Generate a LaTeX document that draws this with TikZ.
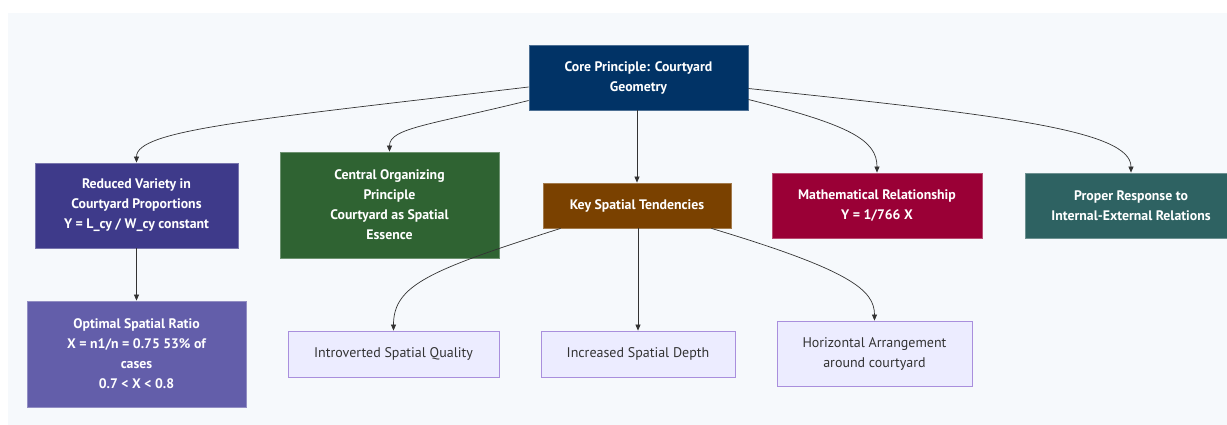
\documentclass[tikz,border=0pt]{standalone}
\usepackage{fontspec}
\setmainfont{PT Sans}
\usetikzlibrary{arrows.meta}
\definecolor{bgc}{HTML}{F6F9FC}
\definecolor{edgec}{HTML}{333333}
\definecolor{lightfill}{HTML}{ECECFF}
\definecolor{lightborder}{HTML}{A98FDD}
\definecolor{corec}{HTML}{013366}
\definecolor{redc}{HTML}{3E3A8A}
\definecolor{centc}{HTML}{2F6332}
\definecolor{keyc}{HTML}{7A4100}
\definecolor{mathc}{HTML}{9A0036}
\definecolor{propc}{HTML}{2E6262}
\definecolor{optc}{HTML}{635EAA}
\tikzset{
  box/.style={rectangle, draw=#1!70!white, line width=0.8pt, fill=#1, text=white,
    font=\fontsize{13.8}{20}\selectfont\bfseries, align=center, inner sep=0pt},
  lbox/.style={rectangle, draw=lightborder, line width=0.8pt, fill=lightfill, text=edgec,
    font=\fontsize{14}{20}\selectfont, align=center, inner sep=0pt},
  conn/.style={draw=edgec, line width=0.7pt, -{Triangle[length=6pt,width=5pt]}}
}
\begin{document}
\begin{tikzpicture}[x=1pt,y=-1pt]
\useasboundingbox (0,0) rectangle (1227,425);
\fill[bgc] (8,13) rectangle (1227,425);

\node[box=corec, minimum width=219pt, minimum height=65pt] (core) at (638.5,77.5) {Core Principle: Courtyard\\Geometry};
\node[box=redc, minimum width=203pt, minimum height=85pt] (red) at (136.5,205.5) {Reduced Variety in\\Courtyard Proportions\\Y = L\_cy / W\_cy constant};
\node[box=centc, minimum width=219pt, minimum height=106pt] (cent) at (389.5,205) {Central Organizing\\Principle\\Courtyard as Spatial\\Essence};
\node[box=keyc, minimum width=188pt, minimum height=45pt] (key) at (637,205.5) {Key Spatial Tendencies};
\node[box=mathc, minimum width=210pt, minimum height=65pt] (math) at (877,205.5) {Mathematical Relationship\\Y = 1/766 X};
\node[box=propc, minimum width=212pt, minimum height=65pt] (prop) at (1131,205.5) {Proper Response to\\Internal-External Relations};
\node[box=optc, minimum width=219pt, minimum height=106pt] (opt) at (136.5,354) {Optimal Spatial Ratio\\X = n1/n = 0.75 53\% of\\cases\\0.7 < X < 0.8};
\node[lbox, minimum width=211pt, minimum height=46pt] (intro) at (393.5,354) {Introverted Spatial Quality};
\node[lbox, minimum width=194pt, minimum height=46pt] (depth) at (638,354) {Increased Spatial Depth};
\node[lbox, minimum width=195pt, minimum height=65pt] (horiz) at (874.5,353.5) {Horizontal Arrangement\\around courtyard};

\draw[conn] ([yshift=-9.5pt]core.west) .. controls (250,120) and (136.5,130) .. (red.north);
\draw[conn] ([yshift=-23pt]core.west) .. controls (430,125) and (389.5,128) .. (cent.north);
\draw[conn] (core.south -| key.north) -- (key.north);
\draw[conn] ([yshift=-22pt]core.east) .. controls (850,125) and (877,140) .. (math.north);
\draw[conn] ([yshift=-11pt]core.east) .. controls (1000,115) and (1131,130) .. (prop.north);
\draw[conn] (red.south) -- (opt.north);
\draw[conn] ([xshift=18pt]key.south west) .. controls (430,270) and (393.5,285) .. (intro.north);
\draw[conn] (key.south -| depth.north) -- (depth.north);
\draw[conn] ([xshift=-20pt]key.south east) .. controls (850,270) and (874.5,290) .. (horiz.north);
\end{tikzpicture}
\end{document}
